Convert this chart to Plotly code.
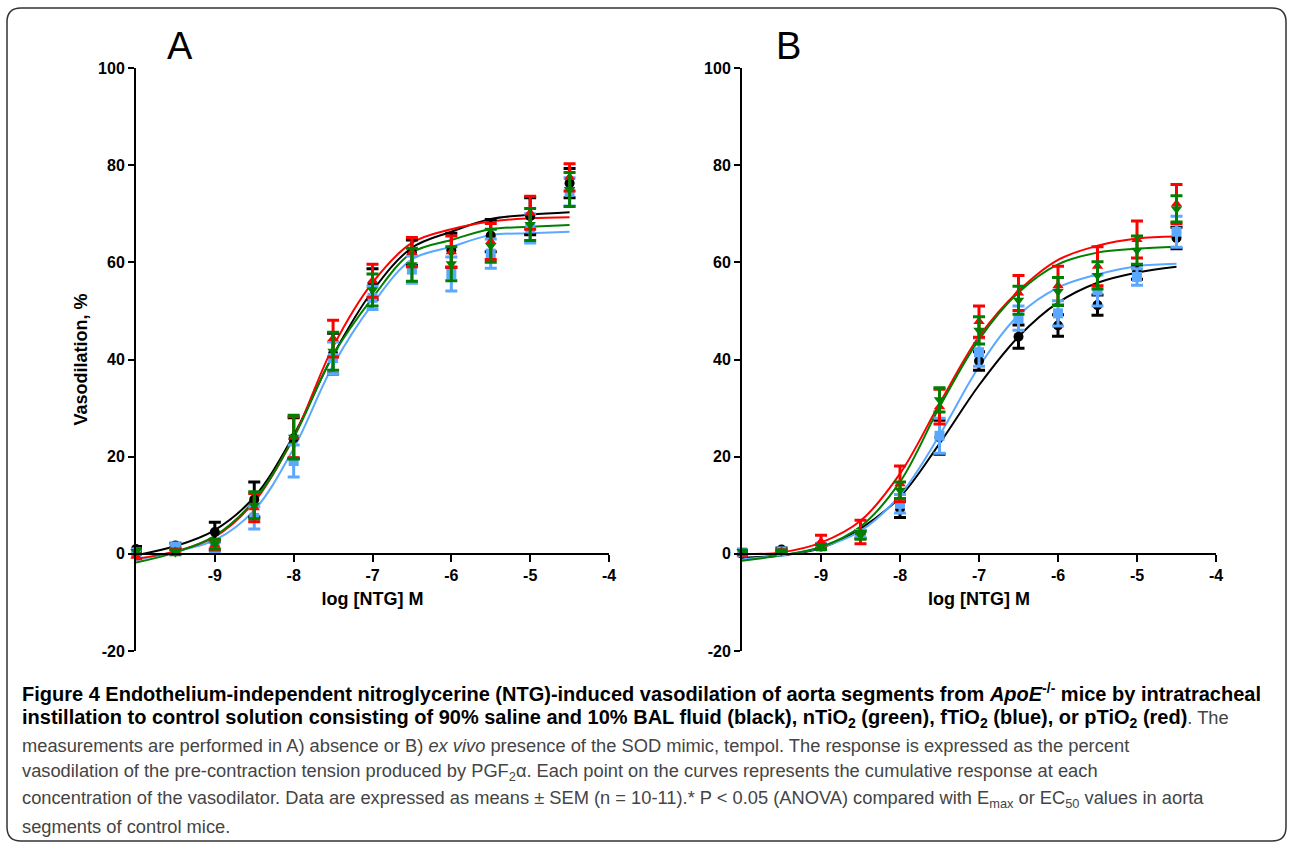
import plotly.graph_objects as go

W, H = 1289, 846

# ---------------- data ----------------
log_ntg = [-10, -9.5, -9, -8.5, -8, -7.5, -7, -6.5, -6, -5.5, -5, -4.5]
x_ticks = [-9, -8, -7, -6, -5, -4]
y_ticks = [-20, 0, 20, 40, 60, 80, 100]

# Panel A (absence of tempol): means, SEM, fitted curve read at each x
ctrl_A = [1.0, 1.7, 4.5, 11.2, 23.8, 41.2, 55.5, 62.0, 62.5, 65.5, 69.5, 76.3]
ctrl_A_sem = [0.5, 0.5, 2.0, 3.6, 4.2, 4.2, 3.2, 2.6, 3.5, 3.3, 3.8, 3.0]
ctrl_A_fit = [-0.3, 1.6, 4.9, 11.7, 24.4, 40.9, 54.1, 63.0, 66.3, 68.9, 69.8, 70.3]

pTiO2_A = [-0.5, 0.5, 1.8, 9.5, 24.0, 44.3, 56.2, 62.1, 62.2, 64.3, 70.2, 77.5]
pTiO2_A_sem = [0.5, 0.5, 1.0, 2.9, 4.2, 3.8, 3.4, 3.0, 3.2, 3.7, 3.4, 2.8]
pTiO2_A_fit = [-1.0, 0.5, 3.5, 10.7, 24.0, 42.6, 55.8, 64.0, 66.8, 68.4, 69.05, 69.3]

nTiO2_A = [0.5, 0.3, 2.0, 10.0, 24.0, 41.7, 54.3, 59.5, 59.7, 63.4, 67.8, 75.0]
nTiO2_A_sem = [0.5, 0.5, 1.0, 2.8, 4.5, 3.9, 3.3, 3.4, 3.5, 3.4, 3.3, 3.5]
nTiO2_A_fit = [-1.8, 0.3, 3.7, 11.0, 23.9, 40.9, 52.7, 62.0, 64.6, 66.8, 67.3, 67.7]

fTiO2_A = [0.3, 1.5, 1.5, 7.4, 19.1, 40.3, 52.7, 58.5, 57.6, 61.8, 67.0, 74.5]
fTiO2_A_sem = [0.5, 0.5, 1.0, 2.3, 3.3, 3.3, 2.4, 2.8, 3.5, 3.0, 3.0, 2.9]
fTiO2_A_fit = [-1.3, 0.5, 2.8, 9.0, 21.7, 38.8, 51.4, 60.6, 63.2, 65.6, 66.0, 66.3]

# Panel B (ex vivo presence of tempol)
ctrl_B = [0.0, 0.9, 1.5, 4.0, 9.3, 24.0, 39.7, 44.7, 47.0, 51.2, 58.0, 65.0]
ctrl_B_sem = [0.3, 0.3, 0.5, 0.8, 1.8, 3.5, 1.9, 2.4, 2.2, 2.1, 1.5, 2.2]
ctrl_B_fit = [-0.8, -0.3, 1.2, 5.2, 11.7, 22.7, 34.7, 44.7, 51.7, 55.8, 57.9, 59.1]

pTiO2_B = [0.0, 0.5, 2.5, 4.5, 14.4, 30.3, 47.8, 53.7, 55.2, 59.2, 64.7, 72.0]
pTiO2_B_sem = [0.3, 0.3, 1.3, 2.4, 3.7, 3.6, 3.2, 3.6, 4.0, 4.0, 3.8, 4.0]
pTiO2_B_fit = [-0.1, 0.3, 2.3, 6.8, 16.5, 30.9, 44.7, 54.1, 60.5, 63.4, 64.9, 65.3]

nTiO2_B = [0.5, 0.5, 1.4, 3.8, 13.1, 31.7, 46.0, 52.2, 54.0, 57.3, 62.5, 71.0]
nTiO2_B_sem = [0.3, 0.3, 0.5, 0.8, 1.7, 2.5, 2.8, 2.9, 2.9, 2.8, 2.9, 2.7]
nTiO2_B_fit = [-1.4, -0.3, 1.4, 5.6, 14.8, 30.2, 44.1, 53.8, 59.6, 62.0, 62.8, 63.2]

fTiO2_B = [0.3, 0.5, 1.5, 4.0, 10.3, 24.3, 41.5, 48.5, 49.5, 54.2, 57.0, 66.3]
fTiO2_B_sem = [0.3, 0.3, 0.5, 0.8, 1.9, 3.6, 2.9, 2.5, 2.6, 3.2, 1.7, 3.2]
fTiO2_B_fit = [-1.1, -0.3, 1.3, 4.7, 12.1, 24.4, 38.5, 49.1, 54.8, 57.5, 59.2, 59.7]

# ---------------- styles ----------------
BLACK, RED, GREEN, BLUE = "#000000", "#FF0000", "#007F00", "#5AA8FF"

panel_series = {
    "A": [
        ("Control", ctrl_A, ctrl_A_sem, ctrl_A_fit, BLACK, "circle"),
        ("fTiO2", fTiO2_A, fTiO2_A_sem, fTiO2_A_fit, BLUE, "square"),
        ("pTiO2", pTiO2_A, pTiO2_A_sem, pTiO2_A_fit, RED, "triangle-up"),
        ("nTiO2", nTiO2_A, nTiO2_A_sem, nTiO2_A_fit, GREEN, "triangle-down"),
    ],
    "B": [
        ("Control", ctrl_B, ctrl_B_sem, ctrl_B_fit, BLACK, "circle"),
        ("fTiO2", fTiO2_B, fTiO2_B_sem, fTiO2_B_fit, BLUE, "square"),
        ("pTiO2", pTiO2_B, pTiO2_B_sem, pTiO2_B_fit, RED, "triangle-up"),
        ("nTiO2", nTiO2_B, nTiO2_B_sem, nTiO2_B_fit, GREEN, "triangle-down"),
    ],
}


def px_x(p):
    return p / W


def px_y(p):
    return 1 - p / H


fig = go.Figure()

axes = {"A": ("x", "y"), "B": ("x2", "y2")}
for panel, series in panel_series.items():
    xa, ya = axes[panel]
    for name, mean, sem, fit, col, sym in series:
        fig.add_trace(go.Scatter(
            x=log_ntg, y=fit, mode="lines", xaxis=xa, yaxis=ya,
            line=dict(color=col, width=2, shape="spline", smoothing=1.0),
            showlegend=False, hoverinfo="skip", cliponaxis=False,
        ))
    for name, mean, sem, fit, col, sym in series:
        fig.add_trace(go.Scatter(
            x=log_ntg, y=mean, mode="markers", xaxis=xa, yaxis=ya, name=name,
            marker=dict(color=col, symbol=sym, size=10),
            error_y=dict(type="data", array=sem, visible=True, color=col,
                         thickness=3, width=6),
            showlegend=False, cliponaxis=False,
        ))

y_dom = [px_y(651), px_y(68)]
x0_pos = px_y(553.8)
tickfont = dict(family="Liberation Sans, Arial, sans-serif", size=16, color="black", weight="bold")
titlefont = dict(family="Liberation Sans, Arial, sans-serif", size=18, color="black", weight="bold")

common_x = dict(range=[-10, -4], tickvals=x_ticks, ticktext=[str(v) for v in x_ticks],
                showgrid=False, zeroline=False, showline=True, linecolor="black",
                linewidth=2, ticks="outside", ticklen=7, tickwidth=2, tickcolor="black",
                tickfont=tickfont, anchor="free", position=x0_pos,
                title=dict(text="log [NTG] M", font=titlefont, standoff=8))
common_y = dict(range=[-20, 100], tickvals=y_ticks, ticktext=[str(v) for v in y_ticks],
                showgrid=False, zeroline=False, showline=True, linecolor="black",
                linewidth=2, ticks="outside", ticklen=6, tickwidth=2, tickcolor="black",
                tickfont=tickfont, domain=y_dom)

fig.update_layout(
    width=W, height=H,
    margin=dict(l=0, r=0, t=0, b=0, autoexpand=False),
    paper_bgcolor="white", plot_bgcolor="rgba(0,0,0,0)",
    xaxis=dict(common_x, domain=[px_x(136), px_x(609)]),
    xaxis2=dict(common_x, domain=[px_x(742), px_x(1216)]),
    yaxis=dict(common_y, anchor="x",
               title=dict(text="Vasodilation, %", font=titlefont, standoff=6)),
    yaxis2=dict(common_y, anchor="x2"),
    showlegend=False,
)

# panel letters
for letter, px in (("A", 180), ("B", 788)):
    fig.add_annotation(text=letter, xref="paper", yref="paper", x=px_x(px), y=px_y(46),
                       showarrow=False, xanchor="center", yanchor="middle",
                       font=dict(family="Liberation Sans, Arial, sans-serif", size=38, color="black"))

# rounded border box
L, T, R, Bt, r = 7, 8, 1286, 841, 14
path = (f"M {px_x(L + r)},{px_y(T)} L {px_x(R - r)},{px_y(T)} "
        f"Q {px_x(R)},{px_y(T)} {px_x(R)},{px_y(T + r)} "
        f"L {px_x(R)},{px_y(Bt - r)} Q {px_x(R)},{px_y(Bt)} {px_x(R - r)},{px_y(Bt)} "
        f"L {px_x(L + r)},{px_y(Bt)} Q {px_x(L)},{px_y(Bt)} {px_x(L)},{px_y(Bt - r)} "
        f"L {px_x(L)},{px_y(T + r)} Q {px_x(L)},{px_y(T)} {px_x(L + r)},{px_y(T)} Z")
fig.add_shape(type="path", path=path, xref="paper", yref="paper",
              line=dict(color="#333333", width=1.5))

# caption
G = "#444444"
BOLD_SIZE = 20
REG_SIZE = 18.3
caption_lines = [
    ("<b>Figure 4 Endothelium-independent nitroglycerine (NTG)-induced vasodilation of aorta segments from <i>ApoE</i><sup>-/-</sup> mice by intratracheal</b>", BOLD_SIZE, "black"),
    ("<b>instillation to control solution consisting of 90% saline and 10% BAL fluid (black), nTiO<sub>2</sub> (green), fTiO<sub>2</sub> (blue), or pTiO<sub>2</sub> (red)</b>"
     f"<span style='color:{G};font-size:{REG_SIZE}px'>. The</span>", BOLD_SIZE, "black"),
    ("measurements are performed in A) absence or B) <i>ex vivo</i> presence of the SOD mimic, tempol. The response is expressed as the percent", REG_SIZE, G),
    ("vasodilation of the pre-contraction tension produced by PGF<sub>2</sub>α. Each point on the curves represents the cumulative response at each", REG_SIZE, G),
    ("concentration of the vasodilator. Data are expressed as means ± SEM (n = 10-11).* P &lt; 0.05 (ANOVA) compared with E<sub>max</sub> or EC<sub>50</sub> values in aorta", REG_SIZE, G),
    ("segments of control mice.", REG_SIZE, G),
]
for i, (line, size, col) in enumerate(caption_lines):
    fig.add_annotation(text=line, xref="paper", yref="paper", x=px_x(20), y=px_y(692 + i * 26.8),
                       showarrow=False, xanchor="left", yanchor="middle",
                       font=dict(family="Liberation Sans, Arial, sans-serif", size=size, color=col))

fig.write_html("out.html")
